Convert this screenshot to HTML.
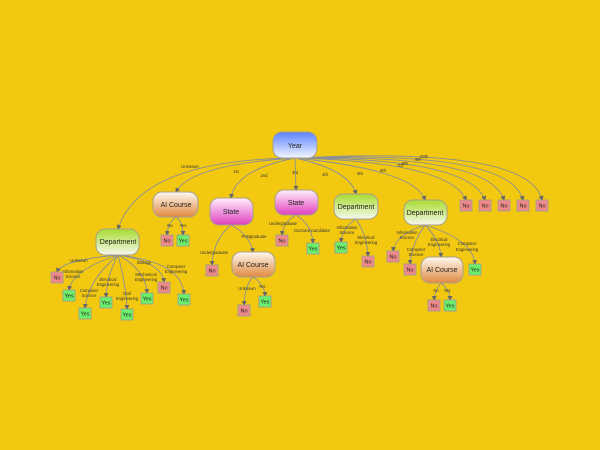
<!DOCTYPE html>
<html><head><meta charset="utf-8"><style>
html,body{margin:0;padding:0;background:#f2c811;}
svg{display:block;font-family:"Liberation Sans",sans-serif;}
.e{fill:none;stroke:#8a8f96;stroke-width:0.9;}
.l{font-size:4.2px;fill:#333;text-anchor:middle;}
.n{font-size:7px;fill:#222;text-anchor:middle;}
.lf{font-size:5.5px;fill:#222;text-anchor:middle;}
.no{fill:#f08a8a;stroke:#999;stroke-width:0.8;}
.yes{fill:#6cf06c;stroke:#999;stroke-width:0.8;}
.nd{stroke:#a8a08a;stroke-width:1;}
</style></head><body>
<svg width="600" height="450" viewBox="0 0 600 450" xmlns="http://www.w3.org/2000/svg">
<defs>
<marker id="a" markerWidth="5" markerHeight="5" refX="4" refY="2.5" orient="auto" markerUnits="userSpaceOnUse"><path d="M0,0L5,2.5L0,5z" fill="#666"/></marker>
<linearGradient id="gy" x1="0" y1="0" x2="0" y2="1"><stop offset="0" stop-color="#5a82ff"/><stop offset="1" stop-color="#f4f6ff"/></linearGradient>
<linearGradient id="ga" x1="0" y1="0" x2="0" y2="1"><stop offset="0" stop-color="#fff8f0"/><stop offset="1" stop-color="#e08a40"/></linearGradient>
<linearGradient id="gs" x1="0" y1="0" x2="0" y2="1"><stop offset="0" stop-color="#fff0fb"/><stop offset="1" stop-color="#e040c0"/></linearGradient>
<linearGradient id="gd" x1="0" y1="0" x2="0" y2="1"><stop offset="0" stop-color="#a8dc30"/><stop offset="1" stop-color="#f6f8ee"/></linearGradient>
</defs>
<g class="e" marker-end="url(#a)">
<path d="M295,158 Q140,160 118,229"/>
<path d="M295,158 Q190,165 176,192"/>
<path d="M295,158 Q235,170 231,198"/>
<path d="M295,158 L296,190"/>
<path d="M295,158 Q350,170 356,194"/>
<path d="M295,158 Q415,170 425,200"/>
<path d="M295,158 Q450,162 466,200"/>
<path d="M295,158 Q470,158 485,200"/>
<path d="M295,158 Q490,154 504,200"/>
<path d="M295,158 Q510,150 523,200"/>
<path d="M295,158 Q530,146 542,200"/>
<path d="M118,255 Q62,260 57,272"/>
<path d="M118,255 Q72,270 69,290"/>
<path d="M118,255 Q88,280 85,308"/>
<path d="M118,255 Q107,275 106,297"/>
<path d="M118,255 Q126,285 127,309"/>
<path d="M118,255 Q146,270 147,293"/>
<path d="M118,255 Q162,262 164,282"/>
<path d="M118,255 Q182,262 184,294"/>
<path d="M176,217 Q168,222 167,235"/>
<path d="M176,217 Q183,222 183,235"/>
<path d="M231,225 Q213,240 212,265"/>
<path d="M231,225 Q250,235 253,252"/>
<path d="M253,277 Q245,285 244,305"/>
<path d="M253,277 Q265,285 265,296"/>
<path d="M296,215 Q283,222 282,235"/>
<path d="M296,215 Q312,225 313,243"/>
<path d="M356,219 Q342,228 341,242"/>
<path d="M356,219 Q367,235 368,256"/>
<path d="M425,225 Q395,235 393,251"/>
<path d="M425,225 Q411,245 410,264"/>
<path d="M425,225 Q440,240 441,257"/>
<path d="M425,225 Q473,240 475,264"/>
<path d="M441,283 Q435,290 434,300"/>
<path d="M441,283 Q450,290 450,300"/>
</g>
<g class="l">
<text x="190" y="168">Unknown</text><text x="236" y="173">1st</text><text x="264" y="177">2nd</text>
<text x="295" y="174">3rd</text><text x="325" y="176">4th</text><text x="360" y="175">5th</text>
<text x="383" y="172">6th</text><text x="400" y="167">7th</text><text x="405" y="165">8th</text><text x="418" y="161">9th</text><text x="424" y="158">10th</text>
<text x="79" y="262">Unknown</text><text x="73" y="273">Information</text><text x="73" y="278">Science</text>
<text x="89" y="292">Computer</text><text x="89" y="297">Science</text>
<text x="108" y="281">Electrical</text><text x="108" y="286">Engineering</text>
<text x="127" y="295">Civil</text><text x="127" y="300">Engineering</text>
<text x="146" y="276">Mechanical</text><text x="146" y="281">Engineering</text>
<text x="144" y="264">Biology</text><text x="176" y="268">Computer</text><text x="176" y="273">Engineering</text>
<text x="170" y="227">No</text><text x="183" y="227">Yes</text>
<text x="214" y="254">Undergraduate</text><text x="254" y="238">Postgraduate</text>
<text x="247" y="290">Unknown</text><text x="262" y="288">Yes</text>
<text x="283" y="225">Undergraduate</text><text x="312" y="232">Doctoral Candidate</text>
<text x="347" y="229">Information</text><text x="347" y="234">Science</text>
<text x="366" y="239">Electrical</text><text x="366" y="244">Engineering</text>
<text x="407" y="234">Information</text><text x="407" y="239">Science</text>
<text x="416" y="251">Computer</text><text x="416" y="256">Science</text>
<text x="439" y="241">Electrical</text><text x="439" y="246">Engineering</text>
<text x="467" y="245">Computer</text><text x="467" y="251">Engineering</text>
<text x="436" y="292">No</text><text x="447" y="292">Yes</text>
</g>
<rect x="273" y="132" width="44" height="26" rx="9" fill="url(#gy)" class="nd"/><text class="n" x="295" y="148">Year</text>
<rect x="153" y="192" width="45" height="25" rx="9" fill="url(#ga)" class="nd"/><text class="n" x="176" y="207">AI Course</text>
<rect x="210" y="198" width="43" height="27" rx="9" fill="url(#gs)" class="nd"/><text class="n" x="231" y="214">State</text>
<rect x="275" y="190" width="43" height="25" rx="9" fill="url(#gs)" class="nd"/><text class="n" x="296" y="205">State</text>
<rect x="334" y="194" width="44" height="25" rx="9" fill="url(#gd)" class="nd"/><text class="n" x="356" y="209">Department</text>
<rect x="404" y="200" width="43" height="25" rx="9" fill="url(#gd)" class="nd"/><text class="n" x="425" y="215">Department</text>
<rect x="96" y="229" width="43" height="26" rx="9" fill="url(#gd)" class="nd"/><text class="n" x="118" y="244">Department</text>
<rect x="232" y="252" width="43" height="25" rx="9" fill="url(#ga)" class="nd"/><text class="n" x="253" y="267">AI Course</text>
<rect x="421" y="257" width="42" height="26" rx="9" fill="url(#ga)" class="nd"/><text class="n" x="442" y="272">AI Course</text>
<g>
<rect class="no" x="460" y="200" width="12" height="11"/><text class="lf" x="466" y="207.5">No</text>
<rect class="no" x="479" y="200" width="12" height="11"/><text class="lf" x="485" y="207.5">No</text>
<rect class="no" x="498" y="200" width="12" height="11"/><text class="lf" x="504" y="207.5">No</text>
<rect class="no" x="517" y="200" width="12" height="11"/><text class="lf" x="523" y="207.5">No</text>
<rect class="no" x="536" y="200" width="12" height="11"/><text class="lf" x="542" y="207.5">No</text>
<rect class="no" x="51" y="272" width="12" height="11"/><text class="lf" x="57" y="279.5">No</text>
<rect class="yes" x="63" y="290" width="12" height="11"/><text class="lf" x="69" y="297.5">Yes</text>
<rect class="yes" x="79" y="308" width="12" height="11"/><text class="lf" x="85" y="315.5">Yes</text>
<rect class="yes" x="100" y="297" width="12" height="11"/><text class="lf" x="106" y="304.5">Yes</text>
<rect class="yes" x="121" y="309" width="12" height="11"/><text class="lf" x="127" y="316.5">Yes</text>
<rect class="yes" x="141" y="293" width="12" height="11"/><text class="lf" x="147" y="300.5">Yes</text>
<rect class="no" x="158" y="282" width="12" height="11"/><text class="lf" x="164" y="289.5">No</text>
<rect class="yes" x="178" y="294" width="12" height="11"/><text class="lf" x="184" y="301.5">Yes</text>
<rect class="no" x="161" y="235" width="12" height="11"/><text class="lf" x="167" y="242.5">No</text>
<rect class="yes" x="177" y="235" width="12" height="11"/><text class="lf" x="183" y="242.5">Yes</text>
<rect class="no" x="206" y="265" width="12" height="11"/><text class="lf" x="212" y="272.5">No</text>
<rect class="no" x="238" y="305" width="12" height="11"/><text class="lf" x="244" y="312.5">No</text>
<rect class="yes" x="259" y="296" width="12" height="11"/><text class="lf" x="265" y="303.5">Yes</text>
<rect class="no" x="276" y="235" width="12" height="11"/><text class="lf" x="282" y="242.5">No</text>
<rect class="yes" x="307" y="243" width="12" height="11"/><text class="lf" x="313" y="250.5">Yes</text>
<rect class="yes" x="335" y="242" width="12" height="11"/><text class="lf" x="341" y="249.5">Yes</text>
<rect class="no" x="362" y="256" width="12" height="11"/><text class="lf" x="368" y="263.5">No</text>
<rect class="no" x="387" y="251" width="12" height="11"/><text class="lf" x="393" y="258.5">No</text>
<rect class="no" x="404" y="264" width="12" height="11"/><text class="lf" x="410" y="271.5">No</text>
<rect class="yes" x="469" y="264" width="12" height="11"/><text class="lf" x="475" y="271.5">Yes</text>
<rect class="no" x="428" y="300" width="12" height="11"/><text class="lf" x="434" y="307.5">No</text>
<rect class="yes" x="444" y="300" width="12" height="11"/><text class="lf" x="450" y="307.5">Yes</text>
</g>
</svg>
</body></html>
